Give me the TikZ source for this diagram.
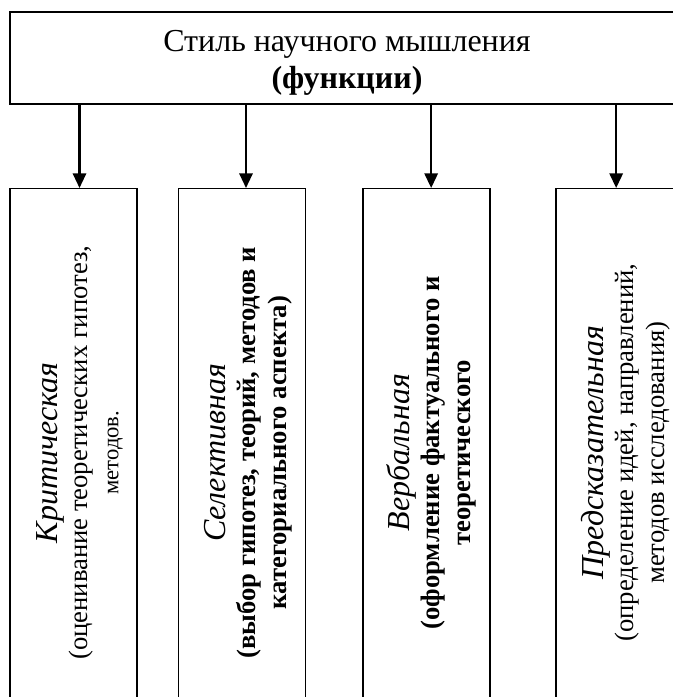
\documentclass[tikz,border=0pt]{standalone}
\usepackage{fontspec}
\setmainfont{Liberation Serif}
\usetikzlibrary{arrows.meta}

\newcommand{\fname}[1]{{\itshape\fontsize{24}{27}\selectfont #1}}

\tikzset{
  topbox/.style={draw, line width=1pt, minimum width=505.5pt, minimum height=69pt,
    inner sep=0pt},
  toptext/.style={align=center, inner sep=0pt, font=\fontsize{24}{27.5}\selectfont},
  funcbox/.style={draw, line width=1pt, rotate=90, anchor=east, minimum width=396pt,
    minimum height=95.25pt, inner sep=0pt},
  functext/.style={rotate=90, align=center, inner sep=0pt, font=\fontsize{20}{23}\selectfont},
  link/.style={-{Triangle[width=10pt,length=11pt]}, line width=1.6pt}
}

\begin{document}
\begin{tikzpicture}[x=0.75pt,y=-0.75pt]
    \clip (0,0) rectangle (673,697);
    % Верхний блок
    \node[topbox] (stil) at (347,58) {};
    \node[toptext] (stiltxt) at ([yshift=-3.5pt]stil.center)
      {Стиль научного мышления\\ \textbf{(функции)}};
    % Функции
    \node[funcbox] (krit) at (73.5,188) {};
    \node[funcbox] (sel) at (242,188) {};
    \node[funcbox] (verb) at (426.5,188) {};
    \node[funcbox] (pred) at (619.5,188) {};
    \node[functext] (krittxt) at ([xshift=4.5pt]krit.center) {\fname{Критическая}\\
      (оценивание теоретических гипотез,\\
      {\fontsize{17}{19}\selectfont методов.}};
    \node[functext] (seltxt) at ([xshift=4.5pt]sel.center) {\fname{Селективная}\\
      \textbf{(выбор гипотез, теорий, методов и}\\
      \textbf{категориального аспекта)}};
    \node[functext] (verbtxt) at ([xshift=3.5pt]verb.center) {\fname{Вербальная}\\
      \textbf{(оформление фактуального и}\\
      \textbf{теоретического}};
    \node[functext] (predtxt) at ([xshift=4.5pt]pred.center) {\fname{Предсказательная}\\
      (определение идей, направлений,\\
      методов исследования)};
    % Стрелки
    \foreach \f/\dx in {krit/4.5,sel/3,verb/3.5,pred/-2.5}
      \draw[link] ([xshift=\dx pt]\f.east |- stil.south) -- ([xshift=\dx pt]\f.east);
\end{tikzpicture}
\end{document}
